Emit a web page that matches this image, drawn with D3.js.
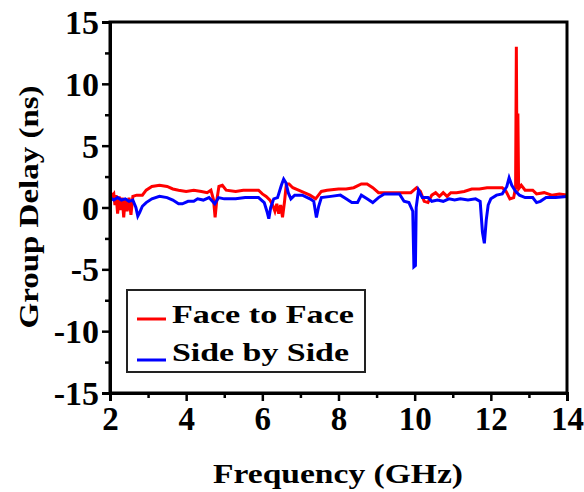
<!DOCTYPE html>
<html lang="en">
<head>
    <meta charset="UTF-8">
    <title>Group Delay</title>
    <script src="https://d3js.org/d3.v7.min.js"></script>
    <style>
        * { margin: 0; padding: 0; box-sizing: border-box; }
        html, body { width: 584px; height: 492px; background: #fff; }
        svg text { font-family: "Liberation Serif", "Times New Roman", serif; font-weight: bold; fill: #000; }
    </style>
</head>
<body>
    <svg id="chart" width="584" height="492"></svg>
    <script>
        // Face to Face (red)
        const faceFreq = [2.0, 2.05, 2.1, 2.13, 2.16, 2.2, 2.24, 2.28, 2.32, 2.36, 2.4, 2.45, 2.5, 2.55, 2.6, 2.7, 2.85, 2.95,
            3.1, 3.3, 3.5, 3.65, 3.8, 4.0, 4.2, 4.4, 4.55, 4.65, 4.72, 4.76, 4.8, 4.86, 4.95, 5.05, 5.3, 5.5, 5.7, 5.9,
            6.0, 6.1, 6.2, 6.27, 6.33, 6.38, 6.43, 6.48, 6.53, 6.58, 6.63, 6.7, 6.8, 6.95, 7.1, 7.25, 7.4, 7.55, 7.7,
            8.0, 8.2, 8.4, 8.6, 8.75, 8.9, 9.05, 9.3, 9.6, 9.9, 10.05, 10.15, 10.25, 10.35, 10.45, 10.55, 10.65, 10.75,
            10.85, 10.95, 11.1, 11.3, 11.5, 11.7, 11.9, 12.1, 12.3, 12.4, 12.5, 12.6, 12.65, 12.67, 12.69, 12.71, 12.73,
            12.8, 12.9, 13.1, 13.2, 13.4, 13.6, 13.8, 14.0];
        const faceDelay = [1.4, 0.9, 1.1, 0.2, 1.0, -0.5, 0.9, -0.2, 0.8, -0.8, 0.7, -0.3, 0.8, -0.6, 0.9, 1.0, 1.0, 1.4,
            1.7, 1.8, 1.7, 1.5, 1.4, 1.3, 1.4, 1.3, 1.2, 1.4, 0.6, -0.8, 0.5, 1.7, 1.8, 1.4, 1.3, 1.4, 1.4, 1.4,
            1.1, 0.9, 0.6, 0.2, -0.3, 0.3, -0.5, 0.2, -0.8, 0.4, 1.9, 1.9, 1.6, 1.4, 1.2, 1.0, 0.7, 1.3, 1.4,
            1.5, 1.5, 1.6, 1.9, 1.9, 1.6, 1.2, 1.2, 1.2, 1.2, 1.6, 1.3, 0.5, 0.4, 1.0, 1.2, 0.9, 1.2,
            0.9, 1.2, 1.2, 1.3, 1.5, 1.5, 1.6, 1.6, 1.6, 1.3, 0.7, 0.8, 1.6, 13.0, 1.5, 7.6, 1.5,
            1.8, 1.4, 1.4, 1.1, 1.2, 1.0, 1.1, 1.0];

        // Side by Side (blue)
        const sideFreq = [2.0, 2.1, 2.2, 2.3, 2.4, 2.5, 2.6, 2.68, 2.73, 2.78, 2.85, 2.95, 3.1, 3.3, 3.5, 3.65, 3.8, 3.9,
            4.05, 4.2, 4.3, 4.45, 4.6, 4.75, 4.85, 5.0, 5.3, 5.55, 5.9, 6.05, 6.12, 6.17, 6.22, 6.3, 6.4, 6.5, 6.56,
            6.62, 6.68, 6.75, 6.85, 7.05, 7.25, 7.35, 7.42, 7.48, 7.55, 7.8, 8.05, 8.2, 8.35, 8.5, 8.6, 8.75, 8.9,
            9.05, 9.2, 9.45, 9.6, 9.72, 9.85, 9.95, 9.98, 10.02, 10.04, 10.1, 10.2, 10.35, 10.45, 10.6, 10.75, 10.9,
            11.05, 11.2, 11.4, 11.6, 11.72, 11.78, 11.83, 11.88, 11.93, 12.0, 12.15, 12.3, 12.42, 12.48, 12.55, 12.65,
            12.75, 12.9, 13.1, 13.2, 13.3, 13.45, 13.7, 14.0];
        const sideDelay = [0.8, 0.6, 0.8, 0.6, 0.7, 0.5, 0.6, 0.0, -0.7, -0.4, 0.1, 0.4, 0.7, 0.9, 0.8, 0.6, 0.3, 0.3,
            0.5, 0.5, 0.7, 0.6, 0.8, 0.3, 0.8, 0.7, 0.7, 0.8, 0.8, 0.4, -0.3, -0.9, 0.0, 0.7, 0.8, 1.8, 2.3,
            2.0, 1.2, 0.7, 1.0, 1.0, 0.7, 0.5, -0.8, 0.1, 0.8, 0.9, 1.0, 0.7, 0.4, 0.4, 1.0, 0.7, 0.4,
            0.8, 1.1, 1.1, 1.1, 0.5, 0.4, -0.3, -4.8, -4.7, 0.0, 1.4, 0.8, 0.8, 0.5, 0.6, 0.5, 0.7,
            0.6, 0.7, 0.6, 0.7, 0.5, -2.0, -2.9, -1.0, 0.2, 0.7, 1.0, 1.1, 1.7, 2.4, 1.8, 1.3,
            1.0, 0.8, 0.8, 0.4, 0.5, 0.8, 0.8, 0.9];

        const xTicks = [2, 4, 6, 8, 10, 12, 14];
        const xMinorTicks = [3, 5, 7, 9, 11, 13];
        const yTicks = [-15, -10, -5, 0, 5, 10, 15];
        const yMinorTicks = [-12.5, -7.5, -2.5, 2.5, 7.5, 12.5];
        const legendLabels = ["Face to Face", "Side by Side"];
        const seriesColors = ["#ff0000", "#0000ff"];

        const width = 584, height = 492;
        const margin = { top: 22, right: 17, bottom: 99, left: 110 };
        const svg = d3.select("#chart");

        const x = d3.scaleLinear().domain([2, 14]).range([margin.left, width - margin.right]);
        const y = d3.scaleLinear().domain([-15, 15]).range([height - margin.bottom, margin.top]);

        svg.append("clipPath").attr("id", "clip")
            .append("rect")
            .attr("x", margin.left).attr("y", margin.top)
            .attr("width", x(14) - x(2)).attr("height", y(-15) - y(15));

        // data lines
        const line = d3.line().x(d => x(d[0])).y(d => y(d[1]));
        const series = [
            d3.zip(faceFreq, faceDelay),
            d3.zip(sideFreq, sideDelay)
        ];
        series.forEach((pts, i) => {
            svg.append("path")
                .datum(pts)
                .attr("clip-path", "url(#clip)")
                .attr("fill", "none")
                .attr("stroke", seriesColors[i])
                .attr("stroke-width", 3)
                .attr("d", line);
        });

        // frame
        svg.append("rect")
            .attr("x", margin.left).attr("y", margin.top)
            .attr("width", x(14) - x(2)).attr("height", y(-15) - y(15))
            .attr("fill", "none").attr("stroke", "#000").attr("stroke-width", 3);

        // axes (plain hyphen for negatives, like the original)
        const fmt = d => String(d);
        const xAxis = svg.append("g")
            .attr("transform", `translate(0,${y(-15)})`)
            .call(d3.axisBottom(x).tickValues(xTicks).tickSize(8).tickPadding(4).tickFormat(fmt));
        svg.append("g")
            .attr("transform", `translate(0,${y(-15)})`)
            .call(d3.axisBottom(x).tickValues(xMinorTicks).tickSize(5).tickFormat(""))
            .call(g => g.select(".domain").remove());

        const yAxis = svg.append("g")
            .attr("transform", `translate(${x(2)},0)`)
            .call(d3.axisLeft(y).tickValues(yTicks).tickSize(8).tickPadding(3).tickFormat(fmt));
        svg.append("g")
            .attr("transform", `translate(${x(2)},0)`)
            .call(d3.axisLeft(y).tickValues(yMinorTicks).tickSize(5).tickFormat(""))
            .call(g => g.select(".domain").remove());

        svg.selectAll(".domain").attr("stroke-width", 3);
        svg.selectAll(".tick line").attr("stroke-width", 2.5);
        xAxis.selectAll("text").attr("font-size", 33).attr("dy", "0.76em");
        yAxis.selectAll("text").attr("font-size", 34).attr("dy", "0.34em");
        svg.selectAll(".tick text").style("font-family", "'Liberation Serif', 'Times New Roman', serif").style("font-weight", "bold");

        // axis titles
        svg.append("text")
            .attr("x", 338).attr("y", 483)
            .attr("text-anchor", "middle")
            .attr("font-size", 28)
            .attr("textLength", 250).attr("lengthAdjust", "spacingAndGlyphs")
            .text("Frequency (GHz)");

        svg.append("text")
            .attr("transform", "translate(38,207) rotate(-90)")
            .attr("text-anchor", "middle")
            .attr("font-size", 28)
            .attr("textLength", 243).attr("lengthAdjust", "spacingAndGlyphs")
            .text("Group Delay (ns)");

        // legend
        const legend = svg.append("g");
        legend.append("rect")
            .attr("x", 127).attr("y", 290).attr("width", 238).attr("height", 82)
            .attr("fill", "#fff").attr("stroke", "#222").attr("stroke-width", 2);
        const legendRows = [{ ly: 319, ty: 323, len: 182 }, { ly: 360, ty: 361, len: 177 }];
        legendLabels.forEach((label, i) => {
            legend.append("line")
                .attr("x1", 137).attr("x2", 166)
                .attr("y1", legendRows[i].ly).attr("y2", legendRows[i].ly)
                .attr("stroke", seriesColors[i]).attr("stroke-width", 3);
            legend.append("text")
                .attr("x", 172).attr("y", legendRows[i].ty)
                .attr("font-size", 26)
                .attr("textLength", legendRows[i].len).attr("lengthAdjust", "spacingAndGlyphs")
                .text(label);
        });
    </script>
</body>
</html>
